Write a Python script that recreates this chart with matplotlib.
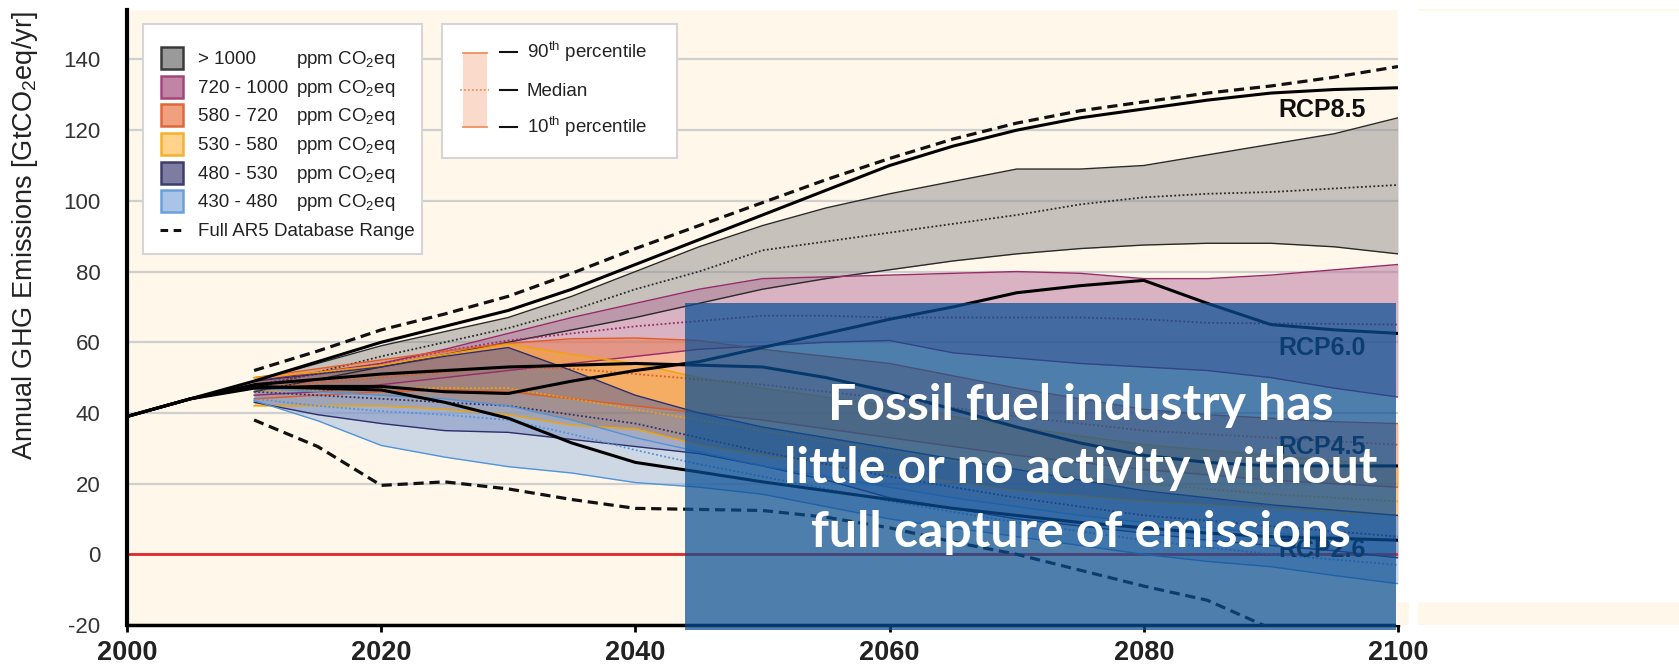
"""AR5 emission pathway bands (GHG emissions 2000-2100) with a text overlay box."""
import matplotlib

matplotlib.use("Agg")
import matplotlib.pyplot as plt
from matplotlib.lines import Line2D
from matplotlib.patches import Rectangle

W, H = 1679, 668
CREAM = "#FFF7EA"

plt.rcParams["font.family"] = ["Liberation Sans", "DejaVu Sans"]
plt.rcParams["mathtext.default"] = "regular"
plt.rcParams["axes.unicode_minus"] = False

# ---- data (GtCO2eq/yr) ----
years = [2010, 2015, 2020, 2025, 2030, 2035, 2040, 2045, 2050, 2055,
         2060, 2065, 2070, 2075, 2080, 2085, 2090, 2095, 2100]

gt1000_p90 = [49, 54, 59, 63, 67, 73, 80, 87, 93, 98, 102, 105.5, 109, 109, 110, 113, 116, 119, 123.5]
gt1000_p50 = [47, 51.5, 56, 60, 64, 69, 75, 80, 86, 88.5, 91, 93.5, 96, 99, 101, 102, 102.5, 103.5, 104.5]
gt1000_p10 = [46, 49.5, 53, 56.5, 60, 63.5, 67, 71, 75, 78, 80.5, 83, 85, 86.5, 87.5, 88, 88, 87, 85]

r720_p90 = [49, 51.5, 54, 58, 62.5, 67, 71, 75, 78, 78.5, 79, 79.5, 80, 79.5, 78, 78, 79, 80.5, 82]
r720_p50 = [48, 51, 54, 57.5, 60.5, 62.5, 64.5, 66, 67.5, 67.5, 67, 67, 67, 67, 66.5, 65.5, 65.3, 65.2, 65]
r720_p10 = [45, 46, 48, 50, 52, 54, 56, 58, 59, 60, 60.5, 57, 55.5, 54, 53, 52, 50, 47, 44.5]

r580_p90 = [50, 52.5, 55, 57.5, 59.7, 61, 61.2, 60.5, 58, 56, 54, 50.5, 47, 44, 41, 39.5, 38.5, 37.5, 37]
r580_p50 = [47, 48.5, 50, 51.5, 53, 52.5, 51, 49.5, 48, 46, 44, 41.5, 39, 37, 35, 34, 33, 32, 31]
r580_p10 = [44, 45, 46, 46.5, 46, 44, 42, 40, 38, 35.5, 33, 30.5, 28, 26, 24, 22.5, 21, 20, 19]

r530_p90 = [50, 51.5, 53.5, 56.5, 59.5, 56.5, 54, 50, 47, 44.5, 42, 39, 36, 33.5, 31, 29.5, 28, 26.5, 25]
r530_p50 = [46, 46.5, 47, 47, 47, 44, 41, 38, 35, 32, 29, 26.5, 24, 22, 20, 18.5, 17, 16, 15]
r530_p10 = [42, 42, 42, 41, 39.5, 36.5, 35.5, 31, 28, 25.5, 23, 20.5, 18, 16.5, 15, 14, 13, 12, 11]

r480_p90 = [49, 51, 53, 56, 58.5, 52, 45, 40, 36, 33, 30, 27, 24, 21, 18, 16, 14, 12.5, 11]
r480_p50 = [46, 45, 44, 43, 42, 39.5, 37, 33, 29, 25.5, 22, 19, 16, 13.5, 11, 9.5, 8, 6.5, 5]
r480_p10 = [43, 39.5, 37, 35, 34.5, 32.5, 30.5, 28.5, 25, 21, 16, 13, 10, 8, 6, 4, 2.5, 1, -1]

r430_p90 = [47, 46, 45, 44, 42, 38, 33, 29, 25, 22, 19, 16, 13.5, 11, 9, 7.5, 6, 5, 4]
r430_p50 = [44, 42, 40.5, 39.5, 38, 34, 29.5, 25.5, 22, 18.5, 15, 12, 9, 6.5, 4, 2, 0, -1.5, -3]
r430_p10 = [43.5, 37.8, 30.8, 27.5, 24.8, 23, 20.3, 19, 17, 13.5, 10, 7.5, 5, 2.5, 0, -2, -3.5, -6, -8.3]

db_upper = [52, 57.5, 63.5, 68, 73, 79.5, 86.5, 93, 99.5, 106, 112, 117.5, 122, 125.5, 128, 130.5, 132.5, 135, 138]
db_lower = [38, 30.5, 19.5, 20.5, 18.5, 15.5, 13, 12.7, 12.4, 10.5, 7.5, 3.5, 0, -4.5, -9, -13, -21, -27, -33]

rcp_years = [2000, 2005] + years
rcp85 = [39, 44, 49, 54.5, 60, 64.5, 69, 75, 82, 89, 96, 103, 110, 115.5, 120, 123.5, 126, 128.5, 130.5, 131.5, 132]
rcp60 = [39, 44, 47, 47.5, 47.5, 46, 45.5, 49, 52, 54.5, 58.5, 62.5, 66.5, 70, 74, 76, 77.5, 71, 65, 63.5, 62.5]
rcp45 = [39, 44, 48, 49.5, 51, 52, 53, 53.5, 54, 53.5, 53, 50, 46, 41, 36, 31.5, 28, 26, 25, 25, 25]
rcp26 = [39, 44, 47.5, 47, 46.5, 43, 38.5, 31.5, 26, 23.3, 20.5, 18, 15.5, 13, 11, 9, 7.5, 6, 5, 4.5, 4]

rcp_names = ["RCP8.5", "RCP6.0", "RCP4.5", "RCP2.6"]
rcp_label_y = [125.6, 58.3, 30.3, 1.1]

band_labels = ["> 1000", "720 - 1000", "580 - 720", "530 - 580", "480 - 530", "430 - 480"]
band_fill = ["#8E8E8E", "#B5709A", "#EE7A4A", "#F5A540", "#4F5C9C", "#9FB8E0"]
band_alpha = [0.5, 0.5, 0.5, 0.6, 0.5, 0.5]
band_edge = ["#2A2A2A", "#9A2A6A", "#E45A22", "#F2A400", "#2E2F6B", "#4F95D9"]
legend_fill = ["#9A9A9A", "#C084A4", "#F0A07E", "#FFD48A", "#7E7CA0", "#AAC4E8"]
legend_edge = ["#3A3A3A", "#A4467A", "#E0683A", "#F5B030", "#3E3D6E", "#6AA0DA"]

overlay_lines = ["Fossil fuel industry has",
                 "little or no activity without",
                 "full capture of emissions"]


def fx(x):
    return x / W


def fy(y):
    return 1 - y / H


fig = plt.figure(figsize=(W / 100, H / 100), dpi=100, facecolor="white")
ax = fig.add_axes([fx(127), fy(625), fx(1398) - fx(127), fy(10) - fy(625)])
ax.set_facecolor(CREAM)
ax.set_xlim(2000, 2100)
ax.set_ylim(-20, 154)

bands = [
    (gt1000_p10, gt1000_p50, gt1000_p90),
    (r720_p10, r720_p50, r720_p90),
    (r580_p10, r580_p50, r580_p90),
    (r530_p10, r530_p50, r530_p90),
    (r480_p10, r480_p50, r480_p90),
    (r430_p10, r430_p50, r430_p90),
]
for (lo, med, hi), fc, a, ec in zip(bands, band_fill, band_alpha, band_edge):
    ax.fill_between(years, lo, hi, color=fc, alpha=a, lw=0, zorder=2)
    ax.plot(years, hi, color=ec, lw=1.0, zorder=3)
    ax.plot(years, lo, color=ec, lw=1.0, zorder=3)
    ax.plot(years, med, color=ec, lw=1.3, ls=(0, (1, 1.3)), zorder=3)

ax.axhline(0, color="#E3262B", lw=2.0, zorder=2.5)

for series in (rcp85, rcp60, rcp45, rcp26):
    ax.plot(rcp_years, series, color="black", lw=2.2, zorder=4, solid_capstyle="round")

for series in (db_upper, db_lower):
    ax.plot(years, series, color="#111111", lw=2.3, ls=(0, (3.2, 1.8)), zorder=4)

for name, yv in zip(rcp_names, rcp_label_y):
    ax.text(2094, yv, name, ha="center", va="center", fontsize=18, fontweight="bold",
            color="#111111", zorder=5)

# axes styling
ax.set_yticks(range(-20, 141, 20))
ax.set_xticks(range(2000, 2101, 20))
ax.yaxis.grid(True, color="#CFCFCF", lw=1.6)
ax.set_axisbelow(True)
for s in ("top", "right"):
    ax.spines[s].set_visible(False)
ax.spines["left"].set_linewidth(3)
ax.spines["bottom"].set_linewidth(2.5)
ax.tick_params(axis="y", length=0, pad=19, labelsize=16, labelcolor="#333333")
ax.tick_params(axis="x", length=5, width=2, direction="out", pad=6)
for lab in ax.get_xticklabels():
    lab.set_fontweight("bold")
    lab.set_fontsize(19.5)
    lab.set_color("#222222")

fig.text(fx(25), fy(236), "Annual GHG Emissions [GtCO$_2$eq/yr]", rotation=90,
         ha="center", va="center", fontsize=19.5, color="#222222")

# ---- legend 1: concentration categories ----
fig.add_artist(Rectangle((fx(143), fy(254)), fx(422) - fx(143), fy(24) - fy(254),
                         transform=fig.transFigure, facecolor="white", edgecolor="#D5D5D5",
                         lw=1.5, zorder=3))
row_y = [58, 87, 115, 144, 173, 201]
for yc, lab, fc, ec in zip(row_y, band_labels, legend_fill, legend_edge):
    fig.add_artist(Rectangle((fx(161), fy(yc + 11)), fx(183) - fx(161), fy(yc - 11) - fy(yc + 11),
                             transform=fig.transFigure, facecolor=fc, edgecolor=ec, lw=1.8, zorder=4))
    fig.text(fx(198), fy(yc + 6), lab, ha="left", va="baseline", fontsize=13.5, color="#222222", zorder=4)
    fig.text(fx(296), fy(yc + 6), "ppm CO$_2$eq", ha="left", va="baseline", fontsize=13.5,
             color="#222222", zorder=4)
fig.add_artist(Line2D([fx(160), fx(184)], [fy(230), fy(230)], transform=fig.transFigure,
                      color="#111111", lw=2.2, ls=(0, (2.5, 1.8)), zorder=4))
fig.text(fx(198), fy(236), "Full AR5 Database Range", ha="left", va="baseline", fontsize=13.5,
         color="#222222", zorder=4)

# ---- legend 2: percentiles ----
fig.add_artist(Rectangle((fx(442), fy(158)), fx(677) - fx(442), fy(24) - fy(158),
                         transform=fig.transFigure, facecolor="white", edgecolor="#D5D5D5",
                         lw=1.5, zorder=3))
fig.add_artist(Rectangle((fx(463), fy(127)), fx(487) - fx(463), fy(53) - fy(127),
                         transform=fig.transFigure, facecolor="#F9DACB", lw=0, zorder=4))
for yl in (53, 127):
    fig.add_artist(Line2D([fx(463), fx(487)], [fy(yl), fy(yl)], transform=fig.transFigure,
                          color="#F0905A", lw=1.3, zorder=5))
fig.add_artist(Line2D([fx(460), fx(489)], [fy(90), fy(90)], transform=fig.transFigure,
                      color="#F0905A", lw=1.3, ls=(0, (1, 1.2)), zorder=5))
for yl, lab in zip((52, 90, 127), ("90$^{th}$ percentile", "Median", "10$^{th}$ percentile")):
    fig.add_artist(Line2D([fx(500), fx(517)], [fy(yl), fy(yl)], transform=fig.transFigure,
                          color="#111111", lw=1.5, zorder=5))
    fig.text(fx(527), fy(yl + 6), lab, ha="left", va="baseline", fontsize=13.5, color="#222222", zorder=5)

# small cream strips at the right edge of the picture
for x0, x1, y0, y1 in ((1396, 1409, 602, 625), (1418, 1679, 602, 625), (1418, 1679, 9.5, 11)):
    fig.add_artist(Rectangle((fx(x0), fy(y1)), fx(x1) - fx(x0), fy(y0) - fy(y1),
                             transform=fig.transFigure, facecolor=CREAM, lw=0, zorder=2))

# ---- overlay box with message ----
fig.add_artist(Rectangle((fx(685), fy(630)), fx(1396) - fx(685), fy(303) - fy(630),
                         transform=fig.transFigure, facecolor="#0A4F95", alpha=0.72, lw=0, zorder=6))
for base_y, line in zip((420, 483, 547), overlay_lines):
    fig.text(fx(1081), fy(base_y), line, ha="center", va="baseline", color="white",
             fontsize=36, fontweight="bold", family=["Lato", "DejaVu Sans"], zorder=7)

fig.savefig("out.png", dpi=100, facecolor="white")
